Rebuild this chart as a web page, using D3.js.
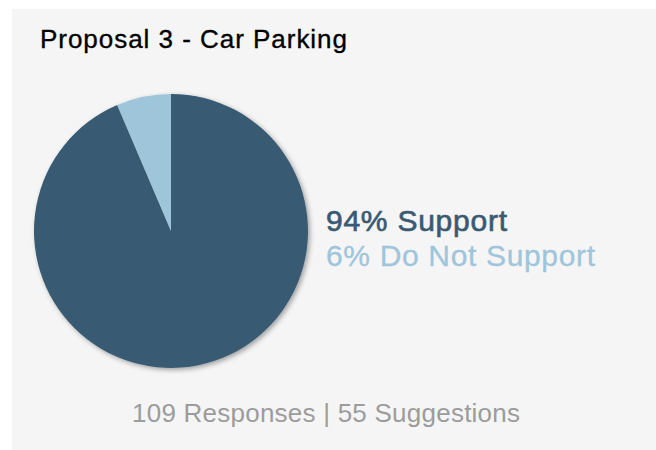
<!DOCTYPE html>
<html>
<head>
<meta charset="utf-8">
<script src="https://cdn.jsdelivr.net/npm/d3@7/dist/d3.min.js"></script>
<style>
  html, body { margin: 0; padding: 0; background: #ffffff; }
  svg { display: block; }
  text { font-family: "Liberation Sans", Arial, Helvetica, sans-serif; }
</style>
</head>
<body>
<svg id="chart" width="656" height="450"></svg>
<script>
const title = "Proposal 3 - Car Parking";
const categories = ["Support", "Do Not Support"];
const counts = [102, 7];
const percents = [94, 6];
const colors = ["#395a73", "#9ec5da"];
const responses = 109;
const suggestions = 55;

const svg = d3.select("#chart");
const W = 656, H = 450;

const defs = svg.append("defs");
const f = defs.append("filter").attr("id", "shadow")
  .attr("x", "-10%").attr("y", "-10%").attr("width", "130%").attr("height", "130%");
f.append("feDropShadow").attr("dx", 2).attr("dy", 2).attr("stdDeviation", 2.5)
  .attr("flood-color", "#000").attr("flood-opacity", 0.35);

svg.append("rect").attr("x", 12).attr("y", 9).attr("width", W - 12).attr("height", H - 9)
  .attr("fill", "#f5f5f5");

svg.append("text").attr("x", 40).attr("y", 48)
  .attr("font-size", 26).attr("fill", "#000")
  .attr("stroke", "#000").attr("stroke-width", 0.35)
  .attr("textLength", 307).attr("lengthAdjust", "spacing")
  .text(title);

const cx = 171, cy = 231, r = 137;
const pie = d3.pie().sort(null).value(d => d)
  .startAngle(0).endAngle(2 * Math.PI);
const arc = d3.arc().innerRadius(0).outerRadius(r);

const g = svg.append("g").attr("transform", `translate(${cx},${cy})`)
  .attr("filter", "url(#shadow)");
g.selectAll("path").data(pie(counts)).join("path")
  .attr("d", arc)
  .attr("fill", (d, i) => colors[i]);

const legendLens = [181, 269];
const legend = svg.append("g");
legend.selectAll("text").data(categories).join("text")
  .attr("x", 326)
  .attr("y", (d, i) => 231 + i * 35)
  .attr("font-size", 30)
  .attr("fill", (d, i) => colors[i])
  .attr("stroke", (d, i) => colors[i])
  .attr("stroke-width", (d, i) => i === 0 ? 0.65 : 0.3)
  .attr("textLength", (d, i) => legendLens[i])
  .attr("lengthAdjust", "spacing")
  .text((d, i) => `${percents[i]}% ${d}`);

svg.append("text").attr("x", 132).attr("y", 422)
  .attr("font-size", 26).attr("fill", "#9c9c9c")
  .attr("textLength", 388).attr("lengthAdjust", "spacing")
  .text(`${responses} Responses | ${suggestions} Suggestions`);
</script>
</body>
</html>
